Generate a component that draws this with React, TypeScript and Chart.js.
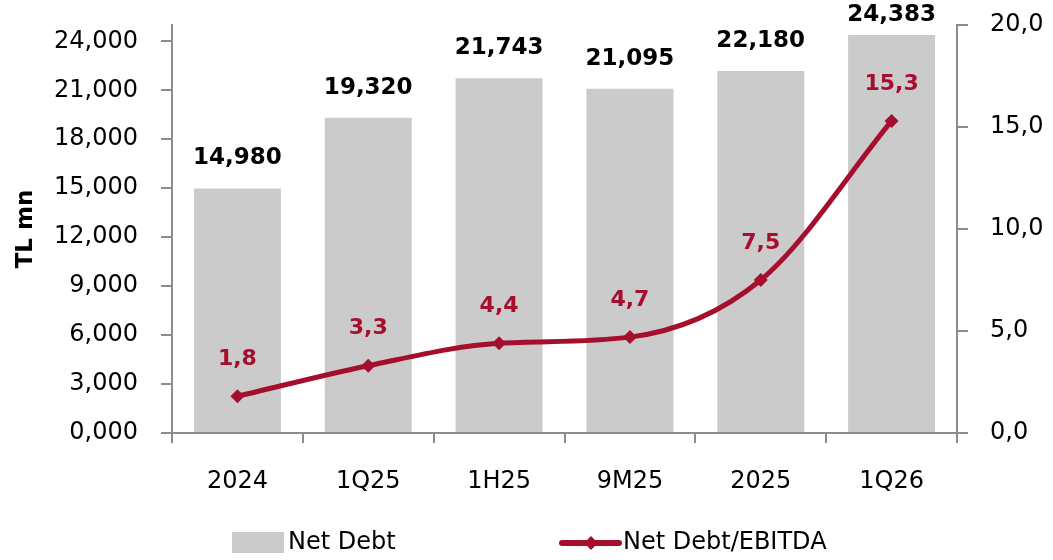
import React, { useEffect, useRef } from "react";
import { Chart, registerables } from "chart.js";

Chart.register(...registerables);

const categories = ["2024", "1Q25", "1H25", "9M25", "2025", "1Q26"];
const netDebt = [14980, 19320, 21743, 21095, 22180, 24383];
const netDebtLabels = ["14,980", "19,320", "21,743", "21,095", "22,180", "24,383"];
const ratio = [1.8, 3.3, 4.4, 4.7, 7.5, 15.3];
const ratioLabels = ["1,8", "3,3", "4,4", "4,7", "7,5", "15,3"];
const leftTicks = [0, 3000, 6000, 9000, 12000, 15000, 18000, 21000, 24000];
const leftTickLabels = ["0,000", "3,000", "6,000", "9,000", "12,000", "15,000", "18,000", "21,000", "24,000"];
const rightTicks = [0, 5, 10, 15, 20];
const rightTickLabels = ["0,0", "5,0", "10,0", "15,0", "20,0"];
const legendLabels = ["Net Debt", "Net Debt/EBITDA"];

const BAR_COLOR = "#CBCBCB";
const LINE_COLOR = "#A50F2D";
const AXIS_COLOR = "#8C8C8C";
const FONT = "'DejaVu Sans', sans-serif";

const labelPlugin = {
  id: "customLabels",
  afterDatasetsDraw(chart: any) {
    const ctx = chart.ctx;
    ctx.save();
    const barMeta = chart.getDatasetMeta(1);
    ctx.font = `bold 23px ${FONT}`;
    ctx.fillStyle = "#000";
    ctx.textAlign = "center";
    ctx.textBaseline = "middle";
    barMeta.data.forEach((el: any, i: number) => {
      const y = Math.max(15, el.y - 30);
      ctx.fillText(netDebtLabels[i], el.x, y);
    });
    const lineMeta = chart.getDatasetMeta(0);
    ctx.font = `bold 22px ${FONT}`;
    ctx.fillStyle = LINE_COLOR;
    lineMeta.data.forEach((el: any, i: number) => {
      ctx.fillText(ratioLabels[i], el.x, el.y - 37);
    });
    ctx.restore();
  },
  afterDraw(chart: any) {
    const ctx = chart.ctx;
    const ca = chart.chartArea;
    const cy = chart.height - 17;
    ctx.save();
    ctx.font = `24px ${FONT}`;
    ctx.textBaseline = "middle";
    ctx.textAlign = "left";
    ctx.fillStyle = "#000";
    const x1 = ca.left + 60;
    ctx.fillStyle = BAR_COLOR;
    ctx.fillRect(x1, cy - 11, 52, 21);
    ctx.fillStyle = "#000";
    ctx.fillText(legendLabels[0], x1 + 56, cy);
    const x2 = ca.left + 390;
    ctx.strokeStyle = LINE_COLOR;
    ctx.lineWidth = 6;
    ctx.lineCap = "round";
    ctx.beginPath();
    ctx.moveTo(x2, cy);
    ctx.lineTo(x2 + 57, cy);
    ctx.stroke();
    ctx.fillStyle = LINE_COLOR;
    const mx = x2 + 29;
    ctx.beginPath();
    ctx.moveTo(mx, cy - 7);
    ctx.lineTo(mx + 7, cy);
    ctx.lineTo(mx, cy + 7);
    ctx.lineTo(mx - 7, cy);
    ctx.closePath();
    ctx.fill();
    ctx.fillStyle = "#000";
    ctx.fillText(legendLabels[1], x2 + 61, cy);
    ctx.restore();
  },
};

export default function App() {
  const ref = useRef<HTMLCanvasElement | null>(null);
  useEffect(() => {
    if (!ref.current) return;
    const chart = new Chart(ref.current, {
      type: "bar",
      data: {
        labels: categories,
        datasets: [
          {
            type: "line",
            label: legendLabels[1],
            data: ratio,
            yAxisID: "y1",
            borderColor: LINE_COLOR,
            backgroundColor: LINE_COLOR,
            borderWidth: 5,
            cubicInterpolationMode: "monotone",
            pointStyle: "rectRot",
            pointRadius: 7,
            pointBackgroundColor: LINE_COLOR,
            pointBorderColor: LINE_COLOR,
            pointBorderWidth: 0,
            order: 0,
          } as any,
          {
            type: "bar",
            label: legendLabels[0],
            data: netDebt,
            yAxisID: "y",
            backgroundColor: BAR_COLOR,
            barPercentage: 0.665,
            categoryPercentage: 1,
            order: 1,
          },
        ],
      },
      options: {
        animation: false,
        responsive: true,
        maintainAspectRatio: false,
        layout: { padding: { top: 25, left: 0, right: 0, bottom: 0 } },
        plugins: { legend: { display: false }, tooltip: { enabled: false } },
        scales: {
          x: {
            grid: {
              offset: true,
              drawOnChartArea: false,
              drawTicks: true,
              tickLength: 10,
              color: AXIS_COLOR,
              lineWidth: 2,
            },
            border: { display: true, color: AXIS_COLOR, width: 2 },
            ticks: { color: "#000", font: { family: FONT, size: 24 }, padding: 24 },
            afterFit: (axis: any) => {
              axis.height = 127;
              axis.paddingLeft = 0;
              axis.paddingRight = 0;
            },
          },
          y: {
            position: "left",
            min: 0,
            max: 25000,
            afterBuildTicks: (axis: any) => {
              axis.ticks = leftTicks.map((v) => ({ value: v }));
            },
            afterFit: (axis: any) => {
              axis.width = 172;
              axis.paddingTop = 0;
              axis.paddingBottom = 0;
            },
            grid: {
              drawOnChartArea: false,
              drawTicks: true,
              tickLength: 11,
              color: AXIS_COLOR,
              lineWidth: 2,
            },
            border: { display: true, color: AXIS_COLOR, width: 2 },
            ticks: {
              color: "#000",
              font: { family: FONT, size: 24 },
              padding: 23,
              callback: (v: any) => leftTickLabels[leftTicks.indexOf(Number(v))] ?? "",
            },
            title: {
              display: true,
              text: "TL mn",
              color: "#000",
              font: { family: FONT, size: 23, weight: "bold" },
              padding: { top: 12, bottom: 0 },
            },
          },
          y1: {
            position: "right",
            min: 0,
            max: 20,
            afterBuildTicks: (axis: any) => {
              axis.ticks = rightTicks.map((v) => ({ value: v }));
            },
            afterFit: (axis: any) => {
              axis.width = 96;
              axis.paddingTop = 0;
              axis.paddingBottom = 0;
            },
            grid: {
              drawOnChartArea: false,
              drawTicks: true,
              tickLength: 11,
              color: AXIS_COLOR,
              lineWidth: 2,
            },
            border: { display: true, color: AXIS_COLOR, width: 2 },
            ticks: {
              color: "#000",
              font: { family: FONT, size: 24 },
              padding: 22,
              callback: (v: any) => rightTickLabels[rightTicks.indexOf(Number(v))] ?? "",
            },
          },
        },
      },
      plugins: [labelPlugin],
    });
    return () => chart.destroy();
  }, []);

  return (
    <div style={{ position: "absolute", left: 0, top: 0, width: 1053, height: 560 }}>
      <canvas ref={ref} />
    </div>
  );
}
